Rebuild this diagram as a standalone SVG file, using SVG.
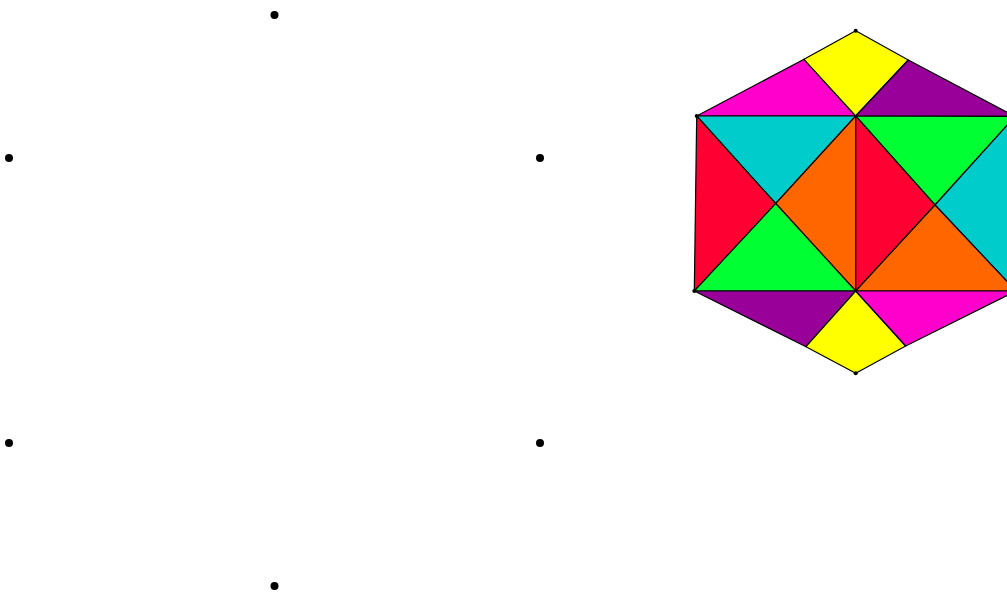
<svg xmlns="http://www.w3.org/2000/svg" width="1007" height="592" viewBox="0 0 1007 592">
<style>
.t{stroke:#000;stroke-width:1.2;stroke-linejoin:round}
.dot{fill:#000}
</style>
<rect width="1007" height="592" fill="#fff"/>
<g id="points">
<circle class="dot" cx="274.5" cy="15" r="4"/>
<circle class="dot" cx="9" cy="158" r="4"/>
<circle class="dot" cx="540" cy="158" r="4"/>
<circle class="dot" cx="9" cy="443" r="4"/>
<circle class="dot" cx="540" cy="443" r="4"/>
<circle class="dot" cx="274.5" cy="586" r="4"/>
</g>
<g id="hexagon">
<polygon class="t" fill="#ff00cc" points="696.7,116 804,59.3 855.7,116"/>
<polygon class="t" fill="#ffff00" points="804,59.3 855.7,30.7 908.3,60 855.7,116"/>
<polygon class="t" fill="#990099" points="908.3,60 1015,116.5 855.7,116"/>
<polygon class="t" fill="#00cccc" points="696.7,116 855.7,116 775.7,203.5"/>
<polygon class="t" fill="#ff0033" points="696.7,116 775.7,203.5 694.3,291"/>
<polygon class="t" fill="#ff6600" points="855.7,116 855.7,291 775.7,203.5"/>
<polygon class="t" fill="#00ff33" points="694.3,291 775.7,203.5 855.7,291"/>
<polygon class="t" fill="#00ff33" points="855.7,116 1015,116.5 935,205"/>
<polygon class="t" fill="#ff0033" points="855.7,116 935,205 855.7,291"/>
<polygon class="t" fill="#00cccc" points="1015,116.5 1016,291 935,205"/>
<polygon class="t" fill="#ff6600" points="855.7,291 935,205 1016,291"/>
<polygon class="t" fill="#990099" points="694.3,291 855.7,291 806,346.7"/>
<polygon class="t" fill="#ffff00" points="806,346.7 855.7,291 905.7,346 855.7,373.3"/>
<polygon class="t" fill="#ff00cc" points="855.7,291 1016,291 905.7,346"/>
<circle class="dot" cx="855.7" cy="30.7" r="2"/>
<circle class="dot" cx="696.7" cy="116" r="2"/>
<circle class="dot" cx="694.3" cy="291" r="2"/>
<circle class="dot" cx="855.7" cy="373.3" r="2"/>
</g>
</svg>
